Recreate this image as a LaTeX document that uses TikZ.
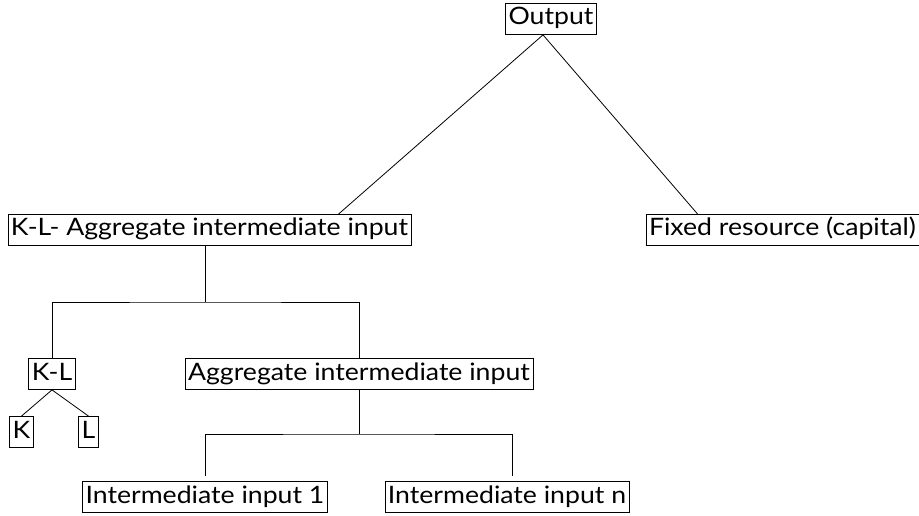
\documentclass[tikz,border=0pt]{standalone}
\usepackage{fontspec}
\setmainfont{Lato}[FakeStretch=1.11]
\usetikzlibrary{calc}
\begin{document}
\begin{tikzpicture}[x=1pt,y=-1pt,
  box/.style={draw, line width=0.8pt, font=\fontsize{24}{28}\selectfont, text height=17pt, text depth=5pt, inner xsep=3pt, inner ysep=4.5pt},
  link/.style={line width=0.8pt}]
\useasboundingbox (0,0) rectangle (919,516);
\node[box] (Out) at (551,19) {Output};
\node[box] (KLagg) at (209.5,230) {K-L- Aggregate intermediate input};
\node[box] (Fixed) at (782.5,230) {Fixed resource (capital)};
\node[box] (KL) at (52,374) {K-L};
\node[box] (Agg) at (359,374) {Aggregate intermediate input};
\node[box] (K) at (21.5,432) {K};
\node[box] (L) at (88.5,432) {L};
\node[box] (I1) at (205,497) {Intermediate input 1};
\node[box] (In) at (507,497) {Intermediate input n};
\coordinate (apex) at ([xshift=-8pt]Out.south);
\coordinate (j1) at (205,302);
\coordinate (j2) at (359,434);
\coordinate (c1) at ($(I1.north)+(0,-5)$);
\coordinate (c2) at ($(In.north)+(5,-5)$);
\draw[link] ([xshift=129pt]KLagg.north) -- (apex) -- ([xshift=52pt]Fixed.north west);
\draw[link] ([xshift=-4.5pt]KLagg.south) -- (j1);
\draw[link] (KL.north) |- (j1) -| (Agg.north);
\draw[link] (Agg.south) -- (j2);
\draw[link] (c1) |- (j2) -| (c2);
\draw[link] (K.north) -- (KL.south) -- (L.north);
\end{tikzpicture}
\end{document}
